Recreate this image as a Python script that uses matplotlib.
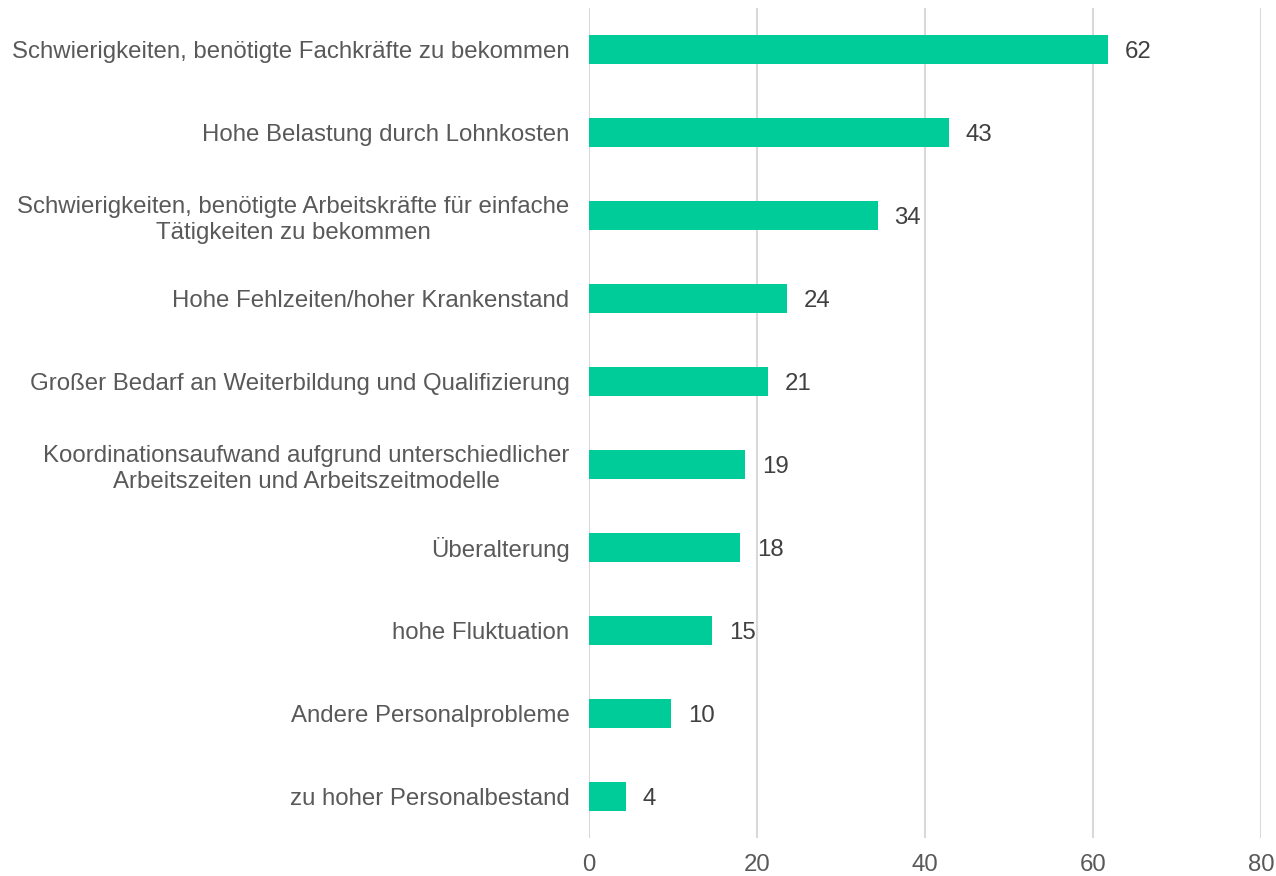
import matplotlib.pyplot as plt
import numpy as np

plt.rcParams['font.family'] = ['Liberation Sans', 'DejaVu Sans']

# categories top to bottom
categories = [
    'Schwierigkeiten, benötigte Fachkräfte zu bekommen',
    'Hohe Belastung durch Lohnkosten',
    'Schwierigkeiten, benötigte Arbeitskräfte für einfache\nTätigkeiten zu bekommen',
    'Hohe Fehlzeiten/hoher Krankenstand',
    'Großer Bedarf an Weiterbildung und Qualifizierung',
    'Koordinationsaufwand aufgrund unterschiedlicher\nArbeitszeiten und Arbeitszeitmodelle',
    'Überalterung',
    'hohe Fluktuation',
    'Andere Personalprobleme',
    'zu hoher Personalbestand',
]
values = [61.8, 42.8, 34.4, 23.6, 21.3, 18.6, 18.0, 14.7, 9.8, 4.4]
xticks = [0, 20, 40, 60, 80]

bar_color = '#00CC99'
grid_color = '#D9D9D9'
label_color = '#595959'
value_color = '#404040'
fs = 17.3

fig = plt.figure(figsize=(12.76, 8.76), dpi=100)
ax = fig.add_axes([589/1276, 1 - 838/876, (1261 - 589)/1276, 830/876])

y = np.arange(len(categories))
ax.barh(y, values, height=0.35, color=bar_color, zorder=3)

for yi, v in zip(y, values):
    ax.annotate(f'{v:.0f}', xy=(v, yi), xytext=(12, -1.5), textcoords='offset points',
                va='center', ha='left', fontsize=fs, color=value_color)

ax.set_xlim(0, 80)
ax.set_ylim(len(categories) - 0.5, -0.5)
ax.set_xticks(xticks)
ax.set_yticks(y)
ax.set_yticklabels(categories, fontsize=fs, color=label_color, linespacing=1.22,
                   ha='right')
for t in ax.get_yticklabels():
    t.set_multialignment('center')
ax.tick_params(axis='x', length=0, pad=11.5, labelsize=fs, labelcolor=label_color)
ax.tick_params(axis='y', length=0, pad=14)
ax.xaxis.grid(True, color=grid_color, linewidth=1.5, zorder=0)
for s in ax.spines.values():
    s.set_visible(False)

fig.savefig('out.png', dpi=100)
